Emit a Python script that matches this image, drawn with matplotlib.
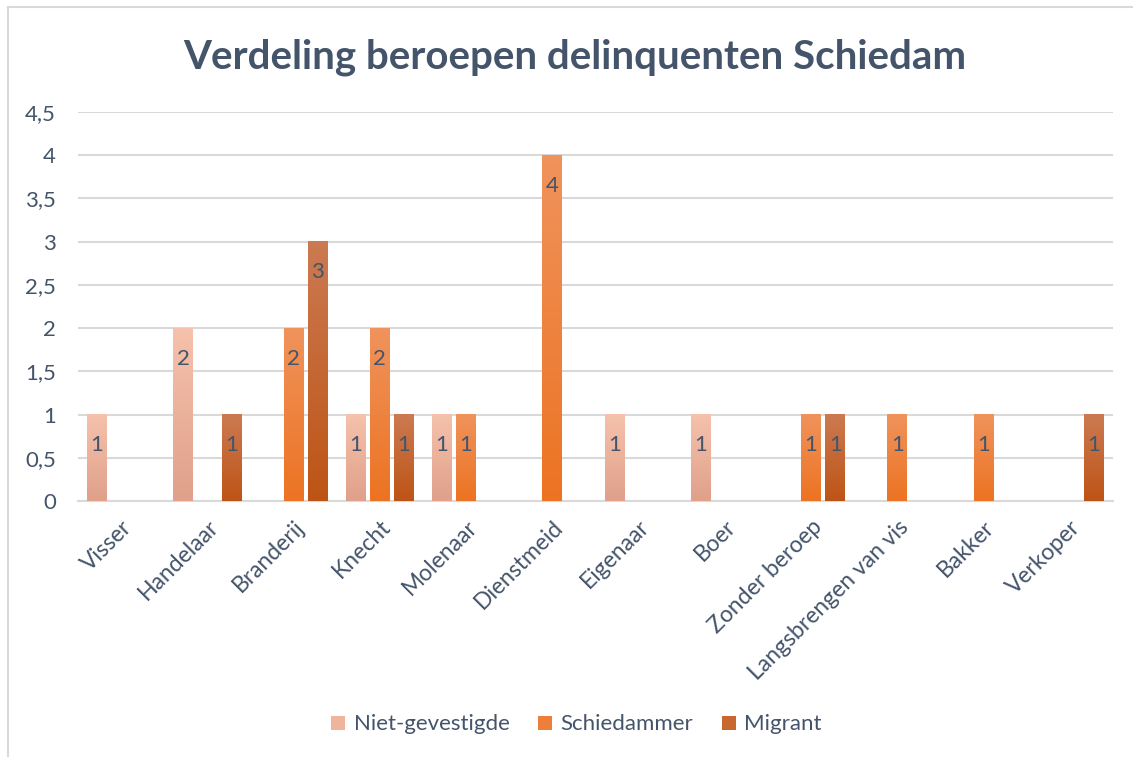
"""
Verdeling beroepen delinquenten Schiedam - grouped bar chart with gradient bars.
"""

import numpy as np
import matplotlib.pyplot as plt
import matplotlib.transforms as mtransforms
from matplotlib.colors import LinearSegmentedColormap
from matplotlib.lines import Line2D
from matplotlib.patches import Patch

# Data
categories = ["Visser", "Handelaar", "Branderij", "Knecht", "Molenaar", "Dienstmeid",
              "Eigenaar", "Boer", "Zonder beroep", "Langsbrengen van vis", "Bakker", "Verkoper"]
niet_gevestigde = [1, 2, 0, 1, 1, 0, 1, 1, 0, 0, 0, 0]
schiedammer = [0, 0, 2, 2, 1, 4, 0, 0, 1, 1, 1, 0]
migrant = [0, 1, 3, 1, 0, 0, 0, 0, 1, 0, 0, 1]
series_names = ["Niet-gevestigde", "Schiedammer", "Migrant"]
yticks = [0, 0.5, 1, 1.5, 2, 2.5, 3, 3.5, 4, 4.5]

# Styling
TEXT = "#44546A"
GRID = "#D9D9D9"
# (top colour, bottom colour) per series
GRADIENTS = [("#F5C2AC", "#E0A08A"), ("#F0935C", "#EC7322"), ("#CC7A52", "#BD5415")]
LEGEND_COLORS = ["#F0B39C", "#EE7F38", "#C8672F"]

plt.rcParams["font.family"] = ["Lato", "DejaVu Sans"]

fig = plt.figure(figsize=(11.33, 7.57), dpi=100)
ax = fig.add_axes([78 / 1133, 256 / 757, 1035 / 1133, 389 / 757])

x = np.arange(len(categories))
width = 0.23
offset = 0.28
all_series = [niet_gevestigde, schiedammer, migrant]

for i, values in enumerate(all_series):
    vals = np.array(values, dtype=float)
    bars = ax.bar(x + (i - 1) * offset, vals, width, color="none", edgecolor="none", zorder=3)
    cmap = LinearSegmentedColormap.from_list(f"g{i}", [GRADIENTS[i][1], GRADIENTS[i][0]])
    for bar, v in zip(bars, vals):
        if v <= 0:
            continue
        bx, by = bar.get_x(), bar.get_y()
        bw, bh = bar.get_width(), bar.get_height()
        grad = np.linspace(0, 1, 256).reshape(-1, 1)
        ax.imshow(grad, cmap=cmap, origin="lower", aspect="auto",
                  extent=(bx, bx + bw, by, by + bh), zorder=3)
        ax.annotate(f"{int(v)}", (bx + bw / 2, by + bh), xytext=(0, -22),
                    textcoords="offset points", ha="center", va="center",
                    fontsize=16, color=TEXT, zorder=4)

ax.set_xlim(-0.5, len(categories) - 0.5)
ax.set_ylim(0, 4.5)
ax.set_yticks(yticks)
ax.set_yticklabels([f"{t:g}".replace(".", ",") for t in yticks], fontsize=16, color=TEXT)
ax.set_xticks(x)
ax.set_xticklabels(categories, rotation=45, ha="right", rotation_mode="anchor",
                   fontsize=16.5, color=TEXT)
shift = mtransforms.ScaledTranslation(9 / 100, 0, fig.dpi_scale_trans)
for lbl in ax.get_xticklabels():
    lbl.set_transform(lbl.get_transform() + shift)
ax.tick_params(axis="both", length=0)
ax.tick_params(axis="y", pad=16)
ax.tick_params(axis="x", pad=11)
ax.grid(axis="y", color=GRID, linewidth=1.5, zorder=0)
for side in ["top", "right", "left"]:
    ax.spines[side].set_visible(False)
ax.spines["bottom"].set_color(GRID)
ax.spines["bottom"].set_linewidth(1.5)

fig.text(0.507, 0.925, "Verdeling beroepen delinquenten Schiedam", ha="center", va="center",
         fontsize=29, fontweight="bold", color=TEXT)

handles = [Patch(facecolor=c, edgecolor="none") for c in LEGEND_COLORS]
fig.legend(handles, series_names, loc="center", bbox_to_anchor=(0.509, 0.043), ncol=3,
           frameon=False, fontsize=16, labelcolor=TEXT, handlelength=0.6, handleheight=0.6,
           handletextpad=0.4, columnspacing=1.3)

# Chart frame (top and left edges)
fig.add_artist(Line2D([8 / 1133, 1.0], [1 - 7 / 757, 1 - 7 / 757], color=GRID, linewidth=1.5))
fig.add_artist(Line2D([8 / 1133, 8 / 1133], [0, 1 - 7 / 757], color=GRID, linewidth=1.5))

fig.savefig("out.png", dpi=100)
